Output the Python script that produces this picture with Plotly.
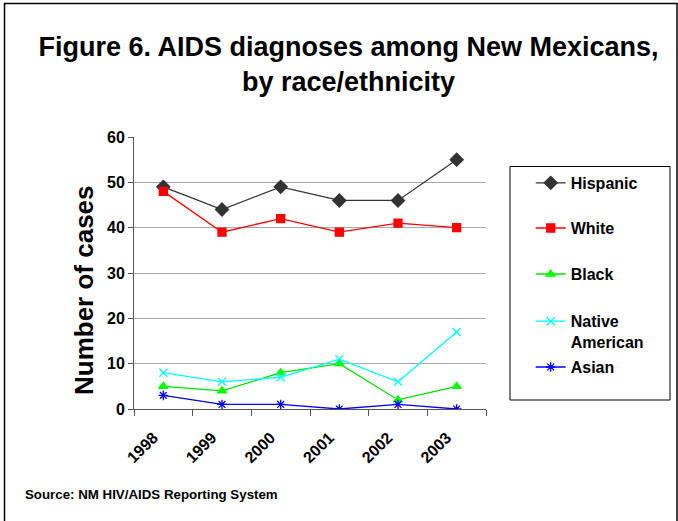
import plotly.graph_objects as go

years = ["1998", "1999", "2000", "2001", "2002", "2003"]
hispanic = [49, 44, 49, 46, 46, 55]
white = [48, 39, 42, 39, 41, 40]
black = [5, 4, 8, 10, 2, 5]
native_american = [8, 6, 7, 11, 6, 17]
asian = [3, 1, 1, 0, 1, 0]

series_names = ["Hispanic", "White", "Black", "Native<br>American", "Asian"]
series_values = [hispanic, white, black, native_american, asian]
line_colors = ["#333333", "#FF0000", "#00E000", "#00FFFF", "#0000FF"]
marker_colors = ["#333333", "#FF0000", "#00FF00", "#00FFFF", "#0000FF"]
symbols = ["diamond", "square", "triangle-up", "x-thin-open", "asterisk-open"]
marker_sizes = [10, 8, 8, 8, 8]
legend_ids = ["legend", "legend2", "legend3", "legend4", "legend5"]
legend_y = [0.831, 0.665, 0.496, 0.385, 0.154]
legend_anchor = ["middle", "middle", "middle", "top", "middle"]

FONT = "Arial, Liberation Sans, sans-serif"

fig = go.Figure()
for name, vals, lc, mc, sym, ms, lid in zip(series_names, series_values, line_colors,
                                           marker_colors, symbols, marker_sizes, legend_ids):
    fig.add_trace(go.Scatter(
        x=years, y=vals, name=name, mode="lines+markers", legend=lid,
        line=dict(color=lc, width=1.3),
        marker=dict(symbol=sym, size=ms, color=mc, line=dict(color=mc, width=1.3)),
    ))

legend_font = dict(family=FONT, size=16, color="black", weight="bold")
layout_legends = {}
for lid, ly, ya in zip(legend_ids, legend_y, legend_anchor):
    layout_legends[lid] = dict(
        x=1.127, y=ly, xref="paper", yref="paper", xanchor="left",
        yanchor=ya, valign="top", bgcolor="rgba(0,0,0,0)", borderwidth=0,
        font=legend_font, itemclick=False, itemdoubleclick=False,
    )

fig.update_layout(
    width=678, height=521,
    margin=dict(l=134, r=192, t=137, b=112),
    paper_bgcolor="white", plot_bgcolor="white",
    showlegend=True,
    title=dict(
        text="Figure 6. AIDS diagnoses among New Mexicans,<br>by race/ethnicity",
        x=0.514, xref="container", xanchor="center",
        y=0.892, yref="container", yanchor="top",
        font=dict(family=FONT, size=27, color="black", weight="bold"),
    ),
    xaxis=dict(
        type="category", range=[-0.5, 5.5], tickson="boundaries",
        ticks="outside", ticklen=6, tickcolor="#555555", tickwidth=1,
        showline=True, linecolor="#555555", linewidth=1, showgrid=False,
        tickangle=-45, ticklabelstandoff=12, ticklabelshift=-10,
        tickfont=dict(family=FONT, size=16, color="black", weight="bold"),
    ),
    yaxis=dict(
        range=[0, 60], dtick=10, tick0=0,
        ticks="outside", ticklen=5, tickcolor="#555555",
        showline=True, linecolor="#555555", linewidth=1,
        showgrid=True, gridcolor="#A8A8A8", gridwidth=1, zeroline=False,
        tickfont=dict(family=FONT, size=16, color="black", weight="bold"),
    ),
    shapes=[
        # outer frame
        dict(type="rect", xref="paper", yref="paper",
             x0=(4.5 - 134) / 352, x1=(677 - 134) / 352,
             y0=(409 - 530) / 272, y1=(409 - 3.5) / 272,
             line=dict(color="black", width=1.5), fillcolor="rgba(0,0,0,0)", layer="below"),
        # legend frame
        dict(type="rect", xref="paper", yref="paper",
             x0=(510 - 134) / 352, x1=(670 - 134) / 352,
             y0=(409 - 400) / 272, y1=(409 - 166.5) / 272,
             line=dict(color="black", width=1), fillcolor="rgba(0,0,0,0)", layer="below"),
    ],
    annotations=[
        dict(text="Number of cases", xref="paper", yref="paper",
             x=(84 - 134) / 352, y=(409 - 290) / 272, xanchor="center", yanchor="middle",
             textangle=-90, showarrow=False,
             font=dict(family=FONT, size=26, color="black", weight="bold")),
        dict(text="Source: NM HIV/AIDS Reporting System", xref="paper", yref="paper",
             x=(23 - 134) / 352, y=(409 - 494) / 272, xanchor="left", yanchor="middle",
             showarrow=False,
             font=dict(family=FONT, size=13.3, color="black", weight="bold")),
    ],
    **layout_legends,
)

fig.write_html("out.html", config={"displayModeBar": False},
               post_script="document.body.style.margin='0px';")
